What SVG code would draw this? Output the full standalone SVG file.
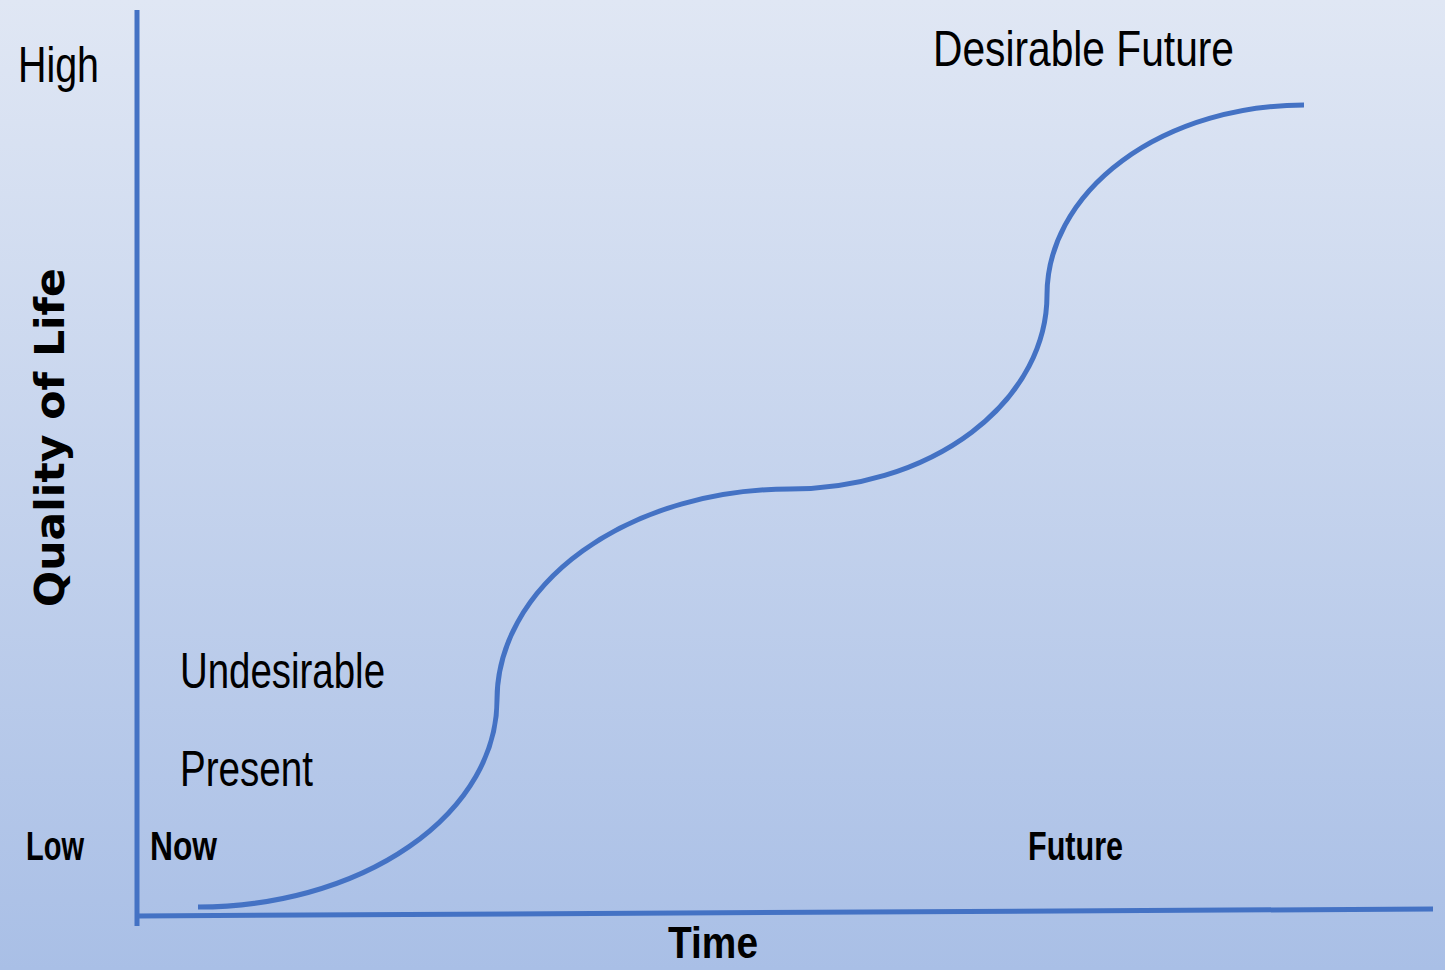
<svg xmlns="http://www.w3.org/2000/svg" width="1445" height="970" viewBox="0 0 1445 970">
<defs>
<linearGradient id="bg" x1="0" y1="0" x2="0" y2="1">
<stop offset="0" stop-color="#e0e7f4"/>
<stop offset="1" stop-color="#a9bfe6"/>
</linearGradient>
<style>
.t{font-family:"Liberation Sans","DejaVu Sans",sans-serif;fill:#000;}
.n{font-size:50px;}
.b{font-size:40px;font-weight:bold;}
.ax{stroke:#4472c4;stroke-width:5;fill:none;}
</style>
</defs>
<rect width="1445" height="970" fill="url(#bg)"/>
<g id="connectors">
<line class="ax" x1="137" y1="10" x2="137" y2="926"/>
<line class="ax" x1="137" y1="916" x2="1433" y2="909"/>
<path id="curve" class="ax" d="M198 907 A299 207 0 0 0 497 700 A293 211 0 0 1 790 489 A257 194 0 0 0 1047 295 A257 190 0 0 1 1304 105"/>
</g>
<g id="labels">
<text id="high" class="t n" x="18" y="82" textLength="81" lengthAdjust="spacingAndGlyphs">High</text>
<text id="desirable" class="t n" x="933" y="66" textLength="301" lengthAdjust="spacingAndGlyphs">Desirable Future</text>
<text id="undesirable" class="t n" x="180" y="688" textLength="205" lengthAdjust="spacingAndGlyphs">Undesirable</text>
<text id="present" class="t n" x="180" y="786" textLength="133" lengthAdjust="spacingAndGlyphs">Present</text>
<text id="low" class="t b" x="26" y="860" textLength="58" lengthAdjust="spacingAndGlyphs">Low</text>
<text id="now" class="t b" x="150" y="860" textLength="67" lengthAdjust="spacingAndGlyphs">Now</text>
<text id="future" class="t b" x="1028" y="860" textLength="95" lengthAdjust="spacingAndGlyphs">Future</text>
<text id="time" class="t" x="668" y="958" font-size="44" font-weight="bold" textLength="90" lengthAdjust="spacingAndGlyphs">Time</text>
<text id="qol" x="0" y="0" transform="translate(64,607) rotate(-90)" font-family="'DejaVu Sans','Liberation Sans',sans-serif" font-size="41" font-weight="bold" textLength="339" lengthAdjust="spacingAndGlyphs">Quality of Life</text>
</g>
</svg>
